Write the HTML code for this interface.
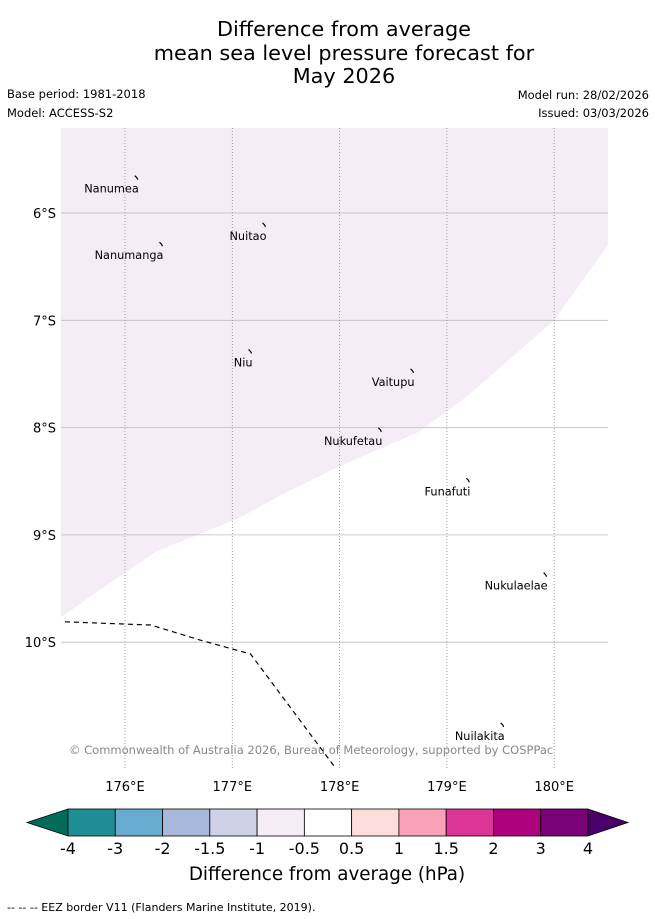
<!DOCTYPE html>
<html><head><meta charset="utf-8"><style>
body{margin:0;background:#fff;}
svg{display:block;font-family:"DejaVu Sans","Liberation Sans",sans-serif;}
</style></head><body>
<svg id="c" width="655" height="919" viewBox="0 0 655 919">
<text x="344" y="36" font-size="20.8" text-anchor="middle">Difference from average</text>
<text x="344" y="60" font-size="20.8" text-anchor="middle">mean sea level pressure forecast for</text>
<text x="344" y="83" font-size="20.8" text-anchor="middle">May 2026</text>
<text x="7" y="98" font-size="11.5">Base period: 1981-2018</text>
<text x="7" y="117" font-size="11.5">Model: ACCESS-S2</text>
<text x="649" y="99" font-size="11.5" text-anchor="end">Model run: 28/02/2026</text>
<text x="649" y="117" font-size="11.5" text-anchor="end">Issued: 03/03/2026</text>
<g id="map"></g>
<g id="cb"></g>
<text x="327" y="880" font-size="18.3" text-anchor="middle">Difference from average (hPa)</text>
<text x="7" y="911" font-size="11">--  --  -- EEZ border V11 (Flanders Marine Institute, 2019).</text>
</svg>
<script>
const lonTicks=[176,177,178,179,180];
const latTicks=[6,7,8,9,10];
const shadeLon=[175.4,180.5,180.5,180.0,179.6,179.2,178.74,178.0,177.45,177.07,176.28,175.77,175.4];
const shadeLat=[-5.2,-5.2,-6.3,-7.0,-7.35,-7.7,-8.04,-8.36,-8.63,-8.84,-9.16,-9.51,-9.77];
const eezLon=[175.44,176.24,176.7,177.17,177.96];
const eezLat=[-9.81,-9.84,-9.98,-10.11,-11.17];
const islandNames=["Nanumea","Nuitao","Nanumanga","Niu","Vaitupu","Nukufetau","Funafuti","Nukulaelae","Nuilakita"];
const islandLon=[176.11,177.3,176.34,177.17,178.68,178.38,179.2,179.92,179.52];
const islandLat=[-5.68,-6.12,-6.3,-7.3,-7.48,-8.03,-8.5,-9.38,-10.78];
const levels=["-4","-3","-2","-1.5","-1","-0.5","0.5","1","1.5","2","3","4"];
const colors=["#1d8f94","#67abd0","#a6b9db","#cfd1e6","#f4edf5","#ffffff","#fddcdc","#f9a2b7","#dd3497","#ae017e","#7a0177"];
const NS="http://www.w3.org/2000/svg";
const X=lon=>125+(lon-176)*107.3;
const Y=lat=>213+(-lat-6)*107.3;
function mk(p,t,a){const e=document.createElementNS(NS,t);for(const k in a)e.setAttribute(k,a[k]);p.appendChild(e);return e;}
const map=document.getElementById('map');
const L=61,R=608,T=128,B=768;
const cp=mk(map,'clipPath',{id:'clip'});mk(cp,'rect',{x:L,y:T,width:R-L,height:B-T});
const g=mk(map,'g',{'clip-path':'url(#clip)'});
const shade=mk(g,'polygon',{points:shadeLon.map((v,i)=>X(v)+','+Y(shadeLat[i])).join(' '),fill:'#f4edf5'});


latTicks.forEach(v=>{
 const y=Y(-v);
 const l=mk(g,'line',{x1:L,x2:R,y1:y,y2:y,stroke:'#bbb','stroke-width':0.8});
 
 
 const t=mk(map,'text',{x:56,y:y+5,'font-size':13,'text-anchor':'end'});t.textContent=v+'°S';
 
 
});
lonTicks.forEach(v=>{
 const x=X(v);
 const l=mk(g,'line',{x1:x,x2:x,y1:T,y2:B,stroke:'#888','stroke-width':0.8,'stroke-dasharray':'1,2'});
 
 
 const t=mk(map,'text',{x:x,y:791,'font-size':13,'text-anchor':'middle'});t.textContent=v+'°E';
 
 
});
const eez=mk(g,'polyline',{points:eezLon.map((v,i)=>X(v)+','+Y(eezLat[i])).join(' '),fill:'none',stroke:'#000','stroke-width':1.2,'stroke-dasharray':'5,4'});


islandNames.forEach((n,i)=>{
 const x=X(islandLon[i]),y=Y(islandLat[i]);
 const m=mk(g,'path',{d:`M${x-2},${y-3} l2,2 l1,2`,stroke:'#000','stroke-width':1.2,fill:'none'});
 
 
 const t=mk(map,'text',{x:x+2,y:y+14,'font-size':11.3,'text-anchor':'end'});t.textContent=n;
 
 
});
const cr=mk(map,'text',{x:69,y:754,'font-size':11.5,fill:'#888'});
cr.textContent='© Commonwealth of Australia 2026, Bureau of Meteorology, supported by COSPPac';


const cb=document.getElementById('cb');
const cx0=68,cx1=588,cy=809,ch=27,bw=(cx1-cx0)/colors.length;
const lt=mk(cb,'polygon',{points:`${cx0},${cy} ${cx0},${cy+ch} 27,${cy+ch/2}`,fill:'#016c59',stroke:'#000','stroke-width':0.8});


const rt=mk(cb,'polygon',{points:`${cx1},${cy} ${cx1},${cy+ch} 628,${cy+ch/2}`,fill:'#49006a',stroke:'#000','stroke-width':0.8});


colors.forEach((c,i)=>{
 const r=mk(cb,'rect',{x:cx0+i*bw,y:cy,width:bw,height:ch,fill:c,stroke:'#000','stroke-width':0.8});
 
 
});
levels.forEach((v,i)=>{
 const t=mk(cb,'text',{x:cx0+i*bw,y:854,'font-size':16,'text-anchor':'middle'});t.textContent=v;
 
 
});
</script>
</body></html>
